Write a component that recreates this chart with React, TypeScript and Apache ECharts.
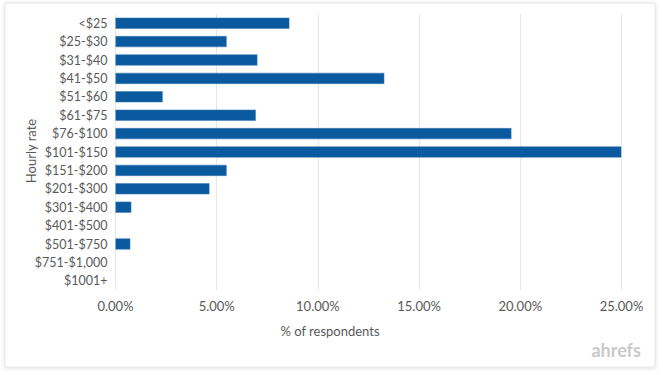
import React, { useEffect, useRef } from "react";
import * as echarts from "echarts";

const categories = [
  "<$25", "$25-$30", "$31-$40", "$41-$50", "$51-$60", "$61-$75", "$76-$100",
  "$101-$150", "$151-$200", "$201-$300", "$301-$400", "$401-$500", "$501-$750",
  "$751-$1,000", "$1001+",
];
const percentValues = [
  8.59, 5.49, 7.01, 13.28, 2.33, 6.93, 19.56, 24.99, 5.49, 4.64, 0.78, 0, 0.73, 0, 0,
];
const xTicks = { min: 0, max: 25, interval: 5 };

export default function App() {
  const ref = useRef<HTMLDivElement>(null);
  useEffect(() => {
    if (!ref.current) return;
    const chart = echarts.init(ref.current, null, { renderer: "svg" });
    const font = "Lato, 'Open Sans', sans-serif";
    const textColor = "#595959";
    chart.setOption({
      animation: false,
      backgroundColor: "#ffffff",
      graphic: [
        {
          type: "rect",
          shape: { x: 5, y: 3, width: 650, height: 364 },
          style: {
            fill: "#ffffff",
            stroke: "#e4e4e4",
            lineWidth: 1,
            shadowBlur: 4,
            shadowColor: "rgba(0,0,0,0.12)",
            shadowOffsetY: 1,
          },
          z: -10,
        },
        {
          type: "text",
          x: 330,
          y: 331,
          style: {
            text: "% of respondents",
            font: `13px ${font}`,
            fill: textColor,
            textAlign: "center",
            textVerticalAlign: "middle",
          },
        },
        {
          type: "text",
          x: 31,
          y: 151,
          rotation: Math.PI / 2,
          style: {
            text: "Hourly rate",
            font: `13px ${font}`,
            fill: textColor,
            textAlign: "center",
            textVerticalAlign: "middle",
          },
        },
        {
          type: "text",
          x: 641,
          y: 350,
          style: {
            text: "ahrefs",
            font: `bold 18px ${font}`,
            fill: "#c9c9c9",
            textAlign: "right",
            textVerticalAlign: "middle",
          },
        },
      ],
      grid: { left: 115.5, right: 41.5, top: 14, bottom: 85 },
      xAxis: {
        type: "value",
        min: xTicks.min,
        max: xTicks.max,
        interval: xTicks.interval,
        axisLine: { show: false },
        axisTick: { show: false },
        splitLine: { lineStyle: { color: "#e6e6e6", width: 1 } },
        axisLabel: {
          color: textColor,
          fontFamily: font,
          fontSize: 13,
          margin: 9,
          formatter: (v: number) => `${v.toFixed(2)}%`,
        },
      },
      yAxis: {
        type: "category",
        data: categories,
        inverse: true,
        axisLine: { show: false },
        axisTick: { show: false },
        axisLabel: {
          color: textColor,
          fontFamily: font,
          fontSize: 12.5,
          margin: 8,
        },
      },
      series: [
        {
          type: "bar",
          data: percentValues.map((v) => ({
            value: v,
            itemStyle: v > 0 ? {} : { borderWidth: 0, opacity: 0 },
          })),
          barCategoryGap: "40%",
          itemStyle: { color: "#0a5a9f", borderColor: "#3a78b6", borderWidth: 0.5 },
        },
      ],
    });
    return () => chart.dispose();
  }, []);
  return (
    <div
      ref={ref}
      style={{ position: "fixed", left: 0, top: 0, width: 663, height: 375, background: "#fff" }}
    />
  );
}
